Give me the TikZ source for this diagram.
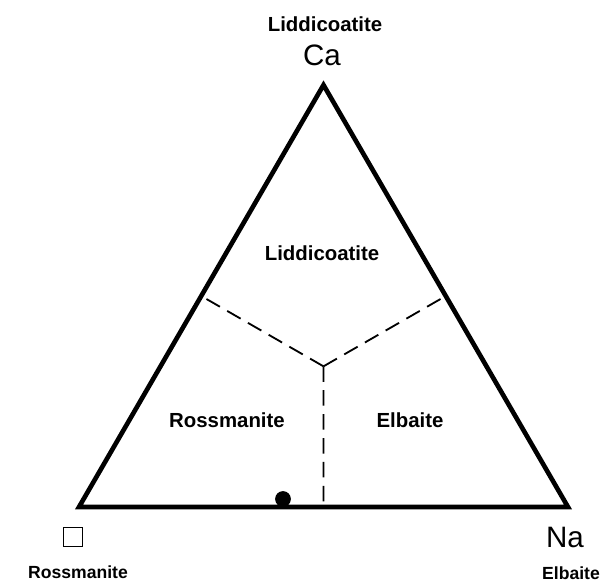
\documentclass[tikz,border=0pt]{standalone}
\usepackage{fontspec}
\setmainfont{Liberation Sans}
\usetikzlibrary{calc}

\tikzset{
  side/.style={line width=3.3pt, line join=miter},
  field/.style={line width=1.3pt, dash pattern=on 11pt off 6pt},
  mineral/.style={font=\bfseries\fontsize{14.5}{16}\selectfont},
  endname/.style={font=\bfseries\fontsize{12.5}{14}\selectfont},
  cation/.style={font=\fontsize{21}{24}\selectfont},
}

\begin{document}
\begin{tikzpicture}[x=0.025cm, y=-0.025cm]
    \useasboundingbox (0,0) rectangle (613,584);

    % corners of the triangle
    \coordinate (Ca) at (323.5,85);
    \coordinate (Vac) at (79,507);
    \coordinate (Na) at (568,507);
    \coordinate (mid) at (barycentric cs:Ca=1,Vac=1,Na=1);
    \coordinate (mCaVac) at ($(Ca)!0.5!(Vac)$);
    \coordinate (mCaNa) at ($(Ca)!0.5!(Na)$);
    \coordinate (mVacNa) at ($(Vac)!0.5!(Na)$);

    \draw[side] (Ca) -- (Vac) -- (Na) -- cycle;

    \draw[field] (mid) -- (mCaVac);
    \draw[field] (mid) -- (mCaNa);
    \draw[field] (mid) -- (mVacNa);

    % end members
    \node[mineral] (lidTop) at (325,24) {Liddicoatite};
    \node[cation] (caLab) at (322,55) {Ca};
    \node[cation] (naLab) at (565,537) {Na};
    \node[endname] (elbBot) at (571,573) {Elbaite};
    \node[draw, line width=0.8pt, minimum size=14pt, inner sep=0pt] (vacBox) at (73,537) {};
    \node[endname] (rosBot) at (78,572) {Rossmanite};

    % fields
    \node[mineral] (lidField) at (322,253) {Liddicoatite};
    \node[mineral] (rosField) at (227,420) {Rossmanite};
    \node[mineral] (elbField) at (410,420) {Elbaite};

    \fill (283,499) coordinate (sample) circle (5.6pt);

\end{tikzpicture}
\end{document}
